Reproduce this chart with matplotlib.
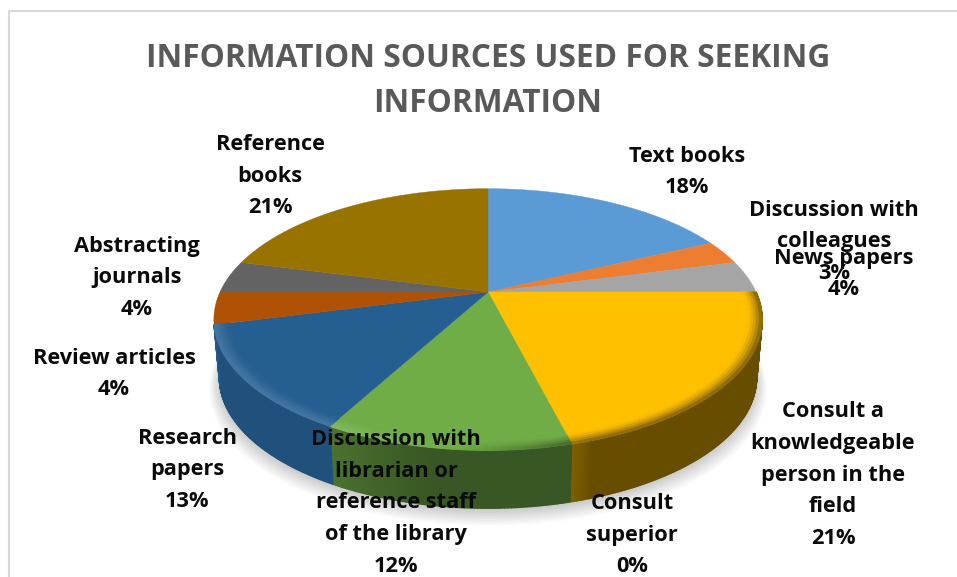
import numpy as np
import matplotlib
matplotlib.use("Agg")
import matplotlib.pyplot as plt
from matplotlib.collections import PolyCollection
from matplotlib.colors import to_rgb

plt.rcParams['font.family'] = ['Open Sans', 'DejaVu Sans']

title = "INFORMATION SOURCES USED FOR SEEKING\nINFORMATION"
labels = ["Text books", "Discussion with\ncolleagues", "News papers",
          "Consult a\nknowledgeable\nperson in the\nfield", "Consult\nsuperior",
          "Discussion with\nlibrarian or\nreference staff\nof the library",
          "Research\npapers", "Review articles", "Abstracting\njournals",
          "Reference\nbooks"]
shares = [18, 3, 4, 21, 0, 12, 13, 4, 4, 21]
colors = ["#5B9BD5", "#ED7D31", "#A5A5A5", "#FFC000", "#4472C4",
          "#70AD47", "#255E91", "#B05205", "#636363", "#997300"]
wall_dark = [0.6, 0.6, 0.6, 0.6, 0.6, 0.5, 0.14, 0.6, 0.6, 0.6]
label_x = [687, 834, 844, 833, 632, 396, 187, 114, 137, 270]
label_y = [172, 242, 274, 475, 535, 503, 470, 374, 278, 176]

# pie geometry in pixels (tilted disc seen in perspective)
cx, cy = 488, 292
rx, ry, k = 268, 125, 0.21
depth = 58


def project(ang, r=1.0, drop=0, sx=1.0):
    X = r * np.sin(ang)
    Y = r * np.cos(ang)
    d = 1 + k * Y
    return cx + sx * rx * X / d, cy + drop - ry * Y / d


def mix(c, other, t):
    c = np.array(to_rgb(c))
    return tuple(c * (1 - t) + np.array(other) * t)


fig = plt.figure(figsize=(9.57, 5.77), dpi=100)
ax = fig.add_axes([0, 0, 1, 1])
ax.set_xlim(0, 957)
ax.set_ylim(577, 0)
ax.axis("off")

# frame of the chart area
ax.plot([9, 9, 957], [577, 11, 11], color="#D9D9D9", lw=1.5)

edges = np.cumsum([0] + shares) / sum(shares) * 2 * np.pi

# soft shadow under the disc
t = np.linspace(0, 2 * np.pi, 240)
for g in range(10):
    sx, sy = project(t, r=1.0 + g * 0.004, drop=depth + 3 + g * 0.8, sx=0.98)
    ax.fill(sx, sy, color="#000000", alpha=0.018, lw=0, zorder=1)

# side wall: only gold, superior, green and research slices face the viewer
quads = []
cols = []
for i, s in enumerate(shares):
    if s == 0 or i < 3 or i > 6:
        continue
    a0, a1 = edges[i], edges[i + 1]
    steps = max(2, int((a1 - a0) / 0.01))
    aa = np.linspace(a0, a1, steps + 1)
    for a, b in zip(aa[:-1], aa[1:]):
        m = (a + b) / 2
        x0, y0 = project(a)
        x1, y1 = project(b)
        x2, y2 = project(b, drop=depth, sx=0.98)
        x3, y3 = project(a, drop=depth, sx=0.98)
        quads.append([(x0, y0), (x1, y1), (x2, y2), (x3, y3)])
        pos = (m - a0) / (a1 - a0)
        # lighter toward the slice ends
        lift = 0.10 * max(0, 1 - (1 - pos) / 0.05)
        if i == 5:
            lift = 0.16 * max(0, (pos - 0.55) / 0.45)
        cols.append(mix(colors[i], (0, 0, 0), max(0, wall_dark[i] - lift)))
ax.add_collection(PolyCollection(quads, facecolors=cols, edgecolors=cols, lw=1.0, zorder=2))

# top face
for i, s in enumerate(shares):
    if s == 0:
        continue
    aa = np.linspace(edges[i], edges[i + 1], max(3, s * 8))
    xs, ys = project(aa)
    ax.fill(np.r_[cx, xs], np.r_[cy, ys], color=colors[i], lw=0.3, zorder=3)

# bevel along the front rim, light on the left and dark on the right
quads = []
cols = []
radii = np.linspace(0.95, 1.0, 6)
for i, s in enumerate(shares):
    if s == 0 or i < 3 or i > 6:
        continue
    steps = max(2, int((edges[i + 1] - edges[i]) / 0.01))
    aa = np.linspace(edges[i], edges[i + 1], steps + 1)
    for a, b in zip(aa[:-1], aa[1:]):
        m = (a + b) / 2
        for r0, r1 in zip(radii[:-1], radii[1:]):
            u = ((r0 + r1) / 2 - 0.95) / 0.05
            x0, y0 = project(a, r0)
            x1, y1 = project(b, r0)
            x2, y2 = project(b, r1)
            x3, y3 = project(a, r1)
            quads.append([(x0, y0), (x1, y1), (x2, y2), (x3, y3)])
            light = np.clip((-np.sin(m) - 0.1) / 0.4, 0, 1)
            dark = np.clip((np.sin(m) + 0.1) / 0.4, 0, 1)
            c = mix(colors[i], (1, 1, 1), 0.16 * u * light)
            c = mix(c, (0, 0, 0), 0.5 * u ** 1.5 * dark)
            cols.append(c)
ax.add_collection(PolyCollection(quads, facecolors=cols, edgecolors=cols, lw=0.8, zorder=4))

ax.text(488, 81, title, ha="center", va="center", fontsize=22.8, fontweight="bold",
        color="#595959", linespacing=1.45, zorder=6)

for name, s, x, y in zip(labels, shares, label_x, label_y):
    ax.text(x, y, f"{name}\n{s}%", ha="center", va="center", fontsize=15.7,
            fontweight="bold", color="#0A0A0A", linespacing=1.66, zorder=6)

fig.savefig("out.png", dpi=100)
